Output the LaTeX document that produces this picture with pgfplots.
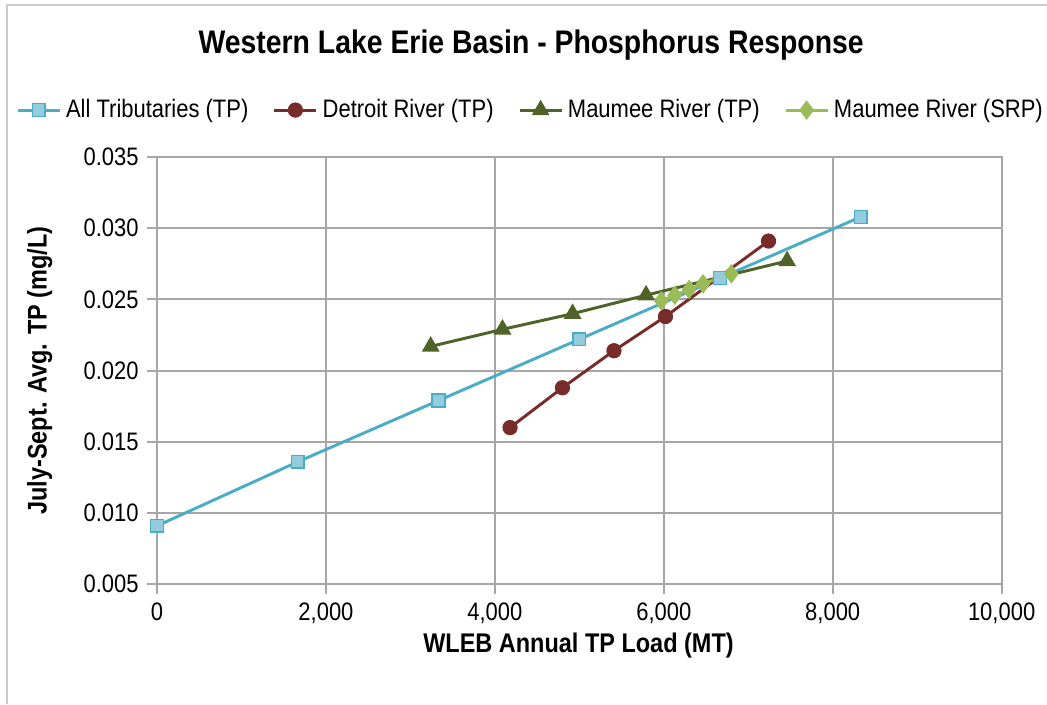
\documentclass[border=0pt]{standalone}
\usepackage{pgfplots}
\pgfplotsset{compat=1.18}
\usepackage{fontspec}
\setmainfont{Liberation Sans}[FakeStretch=0.87]

\definecolor{tribline}{HTML}{4BACC6}
\definecolor{tribfill}{HTML}{93CDDD}
\definecolor{detroit}{HTML}{772C2A}
\definecolor{maumee}{HTML}{4F6228}
\definecolor{srp}{HTML}{9BBB59}
\definecolor{gridgray}{HTML}{A6A6A6}

\begin{document}
\begin{tikzpicture}
	\path[use as bounding box] (-2.25cm,-1.72cm) rectangle (12.75cm,8.37cm);
	\draw[gray!40, line width=1pt] (-2.15cm,-1.72cm) -- (-2.15cm,8.30cm) -- (12.75cm,8.30cm);
	\begin{axis}[
		scale only axis,
		width=12.10cm, height=6.12cm,
		xmin=0, xmax=10000,
		ymin=0.005, ymax=0.035,
		xtick distance=2000,
		ytick distance=0.005,
		scaled x ticks=false,
		scaled y ticks=false,
		xticklabel style={/pgf/number format/.cd, 1000 sep={,}, assume math mode=true},
		yticklabel style={/pgf/number format/.cd, fixed, fixed zerofill, precision=3, assume math mode=true},
		tick label style={font=\fontsize{10.3}{12}\selectfont},
		grid=major,
		grid style={gridgray, line width=0.8pt},
		axis line style={gridgray, line width=0.8pt},
		tick style={gridgray, line width=0.8pt},
		tick align=outside,
		major tick length=4pt,
		xtick pos=bottom, ytick pos=left,
		every axis title shift=0pt,
		title={Western Lake Erie Basin - Phosphorus Response},
		title style={at={(axis description cs:0.443,1.262)}, anchor=center, font=\bfseries\fontsize{13.3}{15}\selectfont},
		xlabel={\bfseries WLEB Annual TP Load (MT)},
		xlabel style={at={(axis description cs:0.499,-0.143)}, anchor=center, font=\fontsize{11}{13}\selectfont},
		ylabel={\bfseries July-Sept. Avg. TP (mg/L)},
		ylabel style={at={(axis description cs:-0.139,0.5)}, anchor=center, font=\fontsize{11}{13}\selectfont},
		legend style={
			at={(0.444,1.11)}, anchor=center,
			draw=none, fill=none,
			legend columns=-1,
			font=\fontsize{10.3}{12}\selectfont,
			/tikz/every even column/.append style={column sep=8pt},
		},
		legend image code/.code={
			\draw[mark repeat=2,mark phase=2] plot coordinates {(0cm,0cm) (0.3cm,0cm) (0.6cm,0cm)};
		},
	]
	\addplot [
		color=tribline, line width=1.2pt,
		mark=square*, mark size=2.6pt,
		mark options={fill=tribfill, draw=tribline, line width=0.6pt},
	] coordinates {(0,0.0091) (1667,0.0136) (3333,0.0179) (5000,0.0222) (6667,0.0265) (8333,0.0308)};
	\addlegendentry{All Tributaries (TP)}
	\addplot [
		color=detroit, line width=1.2pt,
		mark=*, mark size=2.5pt,
		mark options={fill=detroit},
	] coordinates {(4180,0.0160) (4800,0.0188) (5410,0.0214) (6020,0.0238) (7240,0.0291)};
	\addlegendentry{Detroit River (TP)}
	\addplot [
		color=maumee, line width=1.2pt,
		mark=triangle*, mark size=3pt,
		mark options={fill=maumee},
	] coordinates {(3240,0.0217) (4090,0.0229) (4920,0.0240) (5790,0.0253) (7460,0.0277)};
	\addlegendentry{Maumee River (TP)}
	\addplot [
		color=srp, line width=1.2pt,
		mark=diamond*, mark size=3pt,
		mark options={fill=srp},
	] coordinates {(5970,0.0249) (6130,0.0253) (6300,0.0257) (6465,0.0261) (6800,0.0268)};
	\addlegendentry{Maumee River (SRP)}
	\end{axis}
\end{tikzpicture}
\end{document}
